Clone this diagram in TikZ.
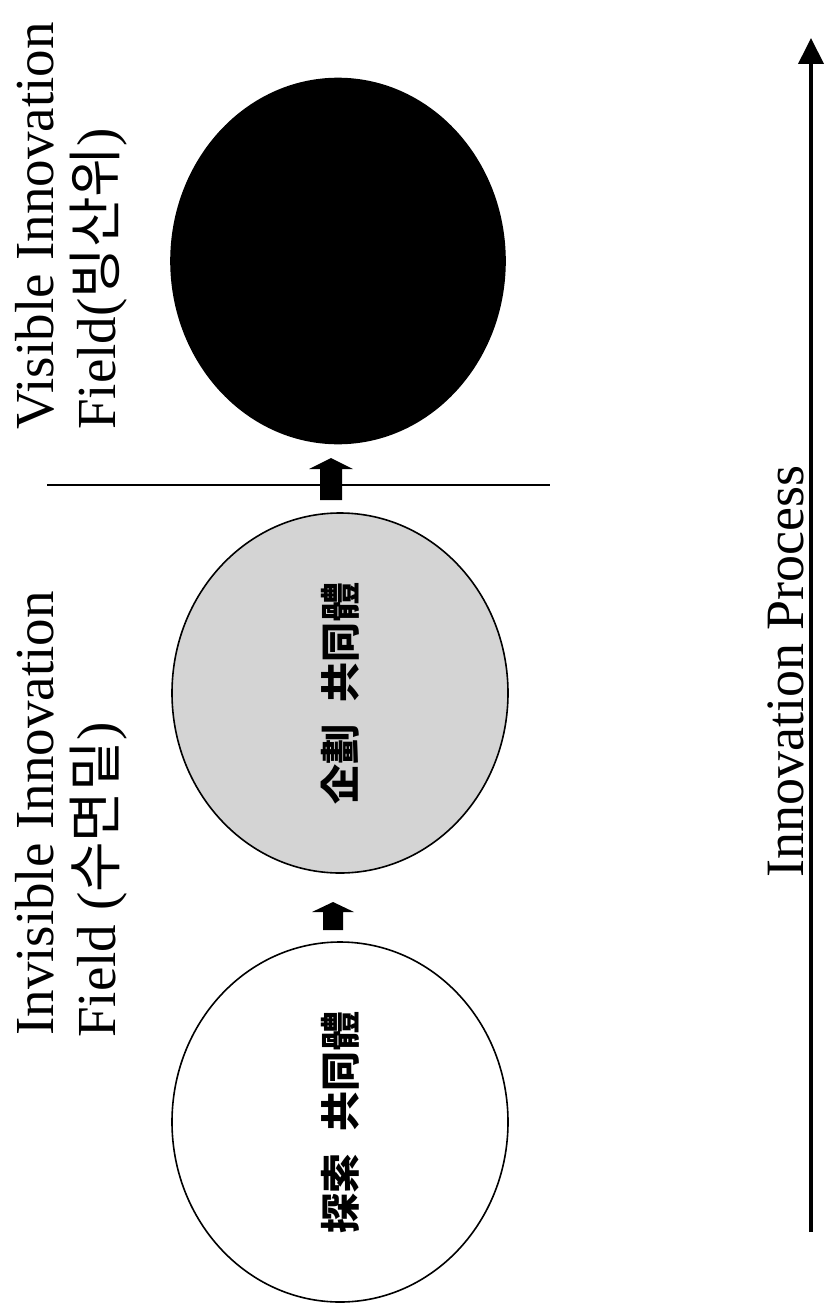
\documentclass[tikz,border=0pt]{standalone}
\usepackage{fontspec}
\setmainfont{Liberation Serif}
\newfontfamily\kr{Noto Sans CJK KR}
\usetikzlibrary{arrows.meta,shapes.geometric}
\begin{document}
\begin{tikzpicture}[x=1pt,y=-1pt,
  field/.style={rotate=90, anchor=base west, inner sep=0pt, font=\fontsize{55}{60}\selectfont},
  ell/.style={ellipse, draw, line width=1.6pt, rotate=90, minimum width=360pt, minimum height=336pt, inner sep=0pt, font=\kr\bfseries\fontsize{40}{44}\selectfont},
  blk/.style={fill=black},
  divider/.style={line width=2pt},
  process/.style={line width=4pt, -{Triangle[width=25pt,length=26pt]}}]
\useasboundingbox (0,0) rectangle (827,1303);
% ellipses
\node[ell] (e1) at (340,1122) {探索\hspace{0.55em}共同體};
\node[ell, fill=black!17] (e2) at (340,693) {企劃\hspace{0.55em}共同體};
\node[ell, fill=black, minimum width=365pt, minimum height=334pt] (e3) at (338,261) {};
% block arrows
\coordinate (a1) at (333,930);
\fill[blk] (a1) ++(-10,0) -- ++(0,-18) -- ++(-11,0) -- ++(21,-10) -- ++(21,10) -- ++(-11,0) -- ++(0,18) -- cycle;
\coordinate (a2) at (331,500);
\fill[blk] (a2) ++(-11,0) -- ++(0,-31) -- ++(-11,0) -- ++(22,-11) -- ++(22,11) -- ++(-11,0) -- ++(0,31) -- cycle;
% divider
\coordinate (l1) at (47,485);
\coordinate (l2) at (550,485);
\draw[divider] (l1) -- (l2);
% process arrow
\coordinate (p0) at (811,1232);
\coordinate (p1) at (811,38);
\draw[process] (p0) -- (p1);
% labels
\node[field] (v1) at (53,430) {Visible Innovation};
\node[field] (v2) at (115,430) {Field({\kr 빙산위})};
\node[field] (i1) at (53,1036) {Invisible Innovation};
\node[field] (i2) at (115,1038) {Field ({\kr 수면밑})};
\node[field, font=\fontsize{54}{60}\selectfont] (ip) at (803,878) {Innovation Process};
\end{tikzpicture}
\end{document}
